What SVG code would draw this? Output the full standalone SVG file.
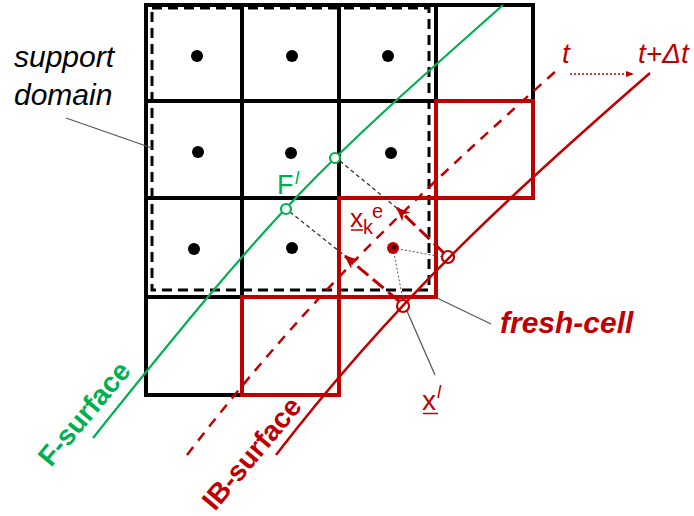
<svg xmlns="http://www.w3.org/2000/svg" width="694" height="516" viewBox="0 0 694 516">
<defs>
<style>
.blk{fill:none;stroke:#000;stroke-width:4}
.red{fill:none;stroke:#c00000;stroke-width:4}
.dot{fill:#000}
.sd{fill:none;stroke:#000;stroke-width:3;stroke-dasharray:10 6}
.lead{fill:none;stroke:#555;stroke-width:1.2}
.thin{fill:none;stroke:#333;stroke-width:1.3;stroke-dasharray:4 3}
.dotted{fill:none;stroke:#555;stroke-width:1;stroke-dasharray:2 2}
.rarrow{fill:none;stroke:#c00000;stroke-width:3;stroke-dasharray:14 6}
.lbl{font-family:"Liberation Sans",Arial,sans-serif}
.redt{fill:#c00000}
.grnt{fill:#00b050}
</style>
<marker id="ah" viewBox="0 0 14 12" refX="13" refY="6" markerWidth="14" markerHeight="12" markerUnits="userSpaceOnUse" orient="auto">
<path d="M0,0 L14,6 L0,12 L4,6 z" fill="#c00000"/>
</marker>
<marker id="sah" viewBox="0 0 8 6" refX="8" refY="3" markerWidth="8" markerHeight="6" markerUnits="userSpaceOnUse" orient="auto">
<path d="M0,0 L8,3 L0,6 z" fill="#c00000"/>
</marker>
</defs>
<rect width="694" height="516" fill="#fff"/>

<g id="grid">
<rect class="blk" x="146" y="5" width="96" height="96"/>
<rect class="blk" x="242" y="5" width="97" height="96"/>
<rect class="blk" x="339" y="5" width="97" height="96"/>
<rect class="blk" x="436" y="5" width="97" height="96"/>
<rect class="blk" x="146" y="101" width="96" height="97"/>
<rect class="blk" x="242" y="101" width="97" height="97"/>
<rect class="blk" x="339" y="101" width="97" height="97"/>
<rect class="blk" x="146" y="198" width="96" height="99"/>
<rect class="blk" x="242" y="198" width="97" height="99"/>
<rect class="blk" x="146" y="297" width="96" height="98"/>
</g>

<g id="support-domain">
<rect class="sd" x="152" y="8" width="277" height="282"/>
</g>

<g id="nodes">
<circle class="dot" cx="197" cy="56" r="6"/>
<circle class="dot" cx="292" cy="56" r="6"/>
<circle class="dot" cx="388" cy="56" r="6"/>
<circle class="dot" cx="198" cy="152" r="6"/>
<circle class="dot" cx="291" cy="153" r="6"/>
<circle class="dot" cx="391" cy="153" r="6"/>
<circle class="dot" cx="194" cy="249" r="6"/>
<circle class="dot" cx="292" cy="248" r="6"/>
</g>

<g id="red-cells">
<rect class="red" x="436" y="101" width="97" height="97"/>
<rect class="red" x="339" y="198" width="97" height="99"/>
<rect class="red" x="242" y="297" width="97" height="98"/>
</g>

<g id="surfaces">
<path d="M93,438 C283,200.5 313,173.3 503,5" fill="none" stroke="#00b050" stroke-width="2.2"/>
<path d="M187,455 C317,286 427,187 557,70" fill="none" stroke="#c00000" stroke-width="2.5" stroke-dasharray="10 8"/>
<path d="M276,455 C401,292.5 525,181.75 650,73" fill="none" stroke="#c00000" stroke-width="2.5"/>
</g>

<g id="connectors">
<line class="thin" x1="340" y1="161" x2="398" y2="209"/>
<line class="thin" x1="290" y1="212" x2="344" y2="255"/>
<line class="rarrow" x1="444" y1="253" x2="397" y2="208" marker-end="url(#ah)"/>
<line class="rarrow" x1="399" y1="301" x2="345" y2="256" marker-end="url(#ah)"/>
<line class="dotted" x1="393" y1="248" x2="443" y2="257"/>
<line class="dotted" x1="393" y1="248" x2="403" y2="300"/>
<line class="lead" x1="66" y1="118" x2="152" y2="148"/>
<line class="lead" x1="437" y1="298" x2="491" y2="324"/>
<line class="lead" x1="407" y1="311" x2="435" y2="375"/>
<line x1="570" y1="74" x2="634" y2="74" stroke="#c00000" stroke-width="1.3" stroke-dasharray="2 2" marker-end="url(#sah)"/>
</g>

<g id="points">
<circle cx="286" cy="209" r="5" fill="#fff" stroke="#00b050" stroke-width="2.2"/>
<circle cx="335" cy="158" r="5" fill="#fff" stroke="#00b050" stroke-width="2.2"/>
<circle cx="448" cy="257" r="6" fill="none" stroke="#c00000" stroke-width="2.2"/>
<circle cx="403" cy="306" r="6" fill="none" stroke="#c00000" stroke-width="2.2"/>
<circle cx="393" cy="248" r="6" fill="#c00000"/>
<circle cx="394" cy="247" r="2.5" fill="#300"/>
</g>

<g id="labels" class="lbl">
<text x="14" y="67" font-size="30" font-style="italic">support</text>
<text x="14" y="105" font-size="30" font-style="italic">domain</text>
<text x="562" y="63" font-size="28" font-style="italic" class="redt">t</text>
<text x="638" y="63" font-size="28" font-style="italic" class="redt">t+Δt</text>
<text x="277" y="194" font-size="27" class="grnt">F</text>
<text x="295" y="184" font-size="18" font-style="italic" class="grnt">l</text>
<text x="350" y="227" font-size="26" class="redt">x</text>
<line x1="351" y1="230" x2="363" y2="230" stroke="#c00000" stroke-width="1.5"/>
<text x="363" y="234" font-size="20" class="redt">k</text>
<text x="372" y="218" font-size="20" class="redt">e</text>
<text x="500" y="333" font-size="30" font-weight="bold" font-style="italic" class="redt">fresh-cell</text>
<text x="422" y="410" font-size="28" class="redt">x</text>
<line x1="423" y1="413.5" x2="438" y2="413.5" stroke="#c00000" stroke-width="1.5"/>
<text x="437" y="398" font-size="18" font-style="italic" class="redt">l</text>
<text transform="translate(51,468) rotate(-50)" font-size="28" font-weight="bold" class="grnt">F-surface</text>
<text transform="translate(215,512) rotate(-50)" font-size="28" font-weight="bold" class="redt">IB-surface</text>
</g>
</svg>
